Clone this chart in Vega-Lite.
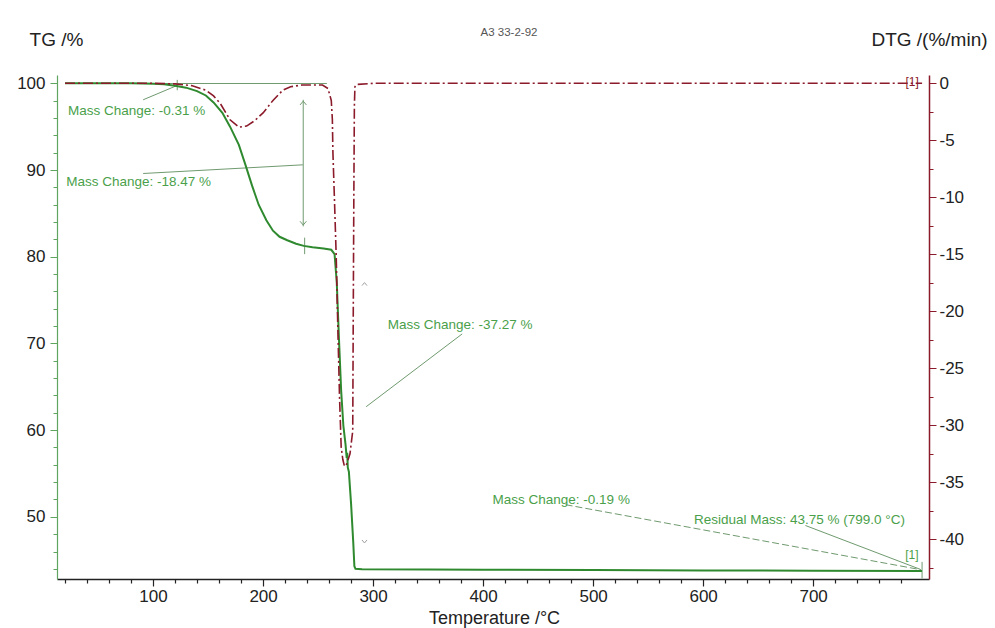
{
  "$schema": "https://vega.github.io/schema/vega-lite/v6.json",
  "width": 872,
  "height": 504,
  "autosize": "none",
  "padding": {"left": 57, "top": 75, "right": 66, "bottom": 49},
  "background": "white",
  "config": {"view": {"stroke": null}, "font": "Liberation Sans"},
  "title": {"text": "A3 33-2-92", "fontSize": 11.5, "font": "Liberation Sans", "fontWeight": "normal", "color": "#555555", "anchor": "middle", "frame": "group", "baseline": "bottom", "offset": -19, "dx": 16},
  "datasets": {
    "tg": [
      {"T": 20, "v": 100.0}, {"T": 40, "v": 100.0}, {"T": 60, "v": 100.0}, {"T": 80, "v": 100.0},
      {"T": 100, "v": 99.95}, {"T": 110, "v": 99.9}, {"T": 120, "v": 99.72}, {"T": 130, "v": 99.5},
      {"T": 140, "v": 99.1}, {"T": 148, "v": 98.6}, {"T": 155, "v": 97.8}, {"T": 163, "v": 96.6},
      {"T": 170, "v": 95.0}, {"T": 178, "v": 92.9}, {"T": 184, "v": 90.6}, {"T": 190, "v": 88.2},
      {"T": 196, "v": 86.0}, {"T": 203, "v": 84.2}, {"T": 209, "v": 83.0}, {"T": 215, "v": 82.3},
      {"T": 222, "v": 81.9}, {"T": 230, "v": 81.5}, {"T": 237, "v": 81.25}, {"T": 245, "v": 81.1},
      {"T": 255, "v": 80.95}, {"T": 262, "v": 80.8}, {"T": 265, "v": 80.3}, {"T": 267, "v": 77.0},
      {"T": 269, "v": 70.5}, {"T": 271, "v": 64.5}, {"T": 273, "v": 60.5}, {"T": 275, "v": 58.3},
      {"T": 276, "v": 56.8}, {"T": 276.5, "v": 57.4}, {"T": 277, "v": 55.7}, {"T": 278, "v": 55.2},
      {"T": 280, "v": 51.5}, {"T": 282, "v": 47.0}, {"T": 283, "v": 44.3}, {"T": 284, "v": 44.0},
      {"T": 290, "v": 43.95}, {"T": 350, "v": 43.93}, {"T": 400, "v": 43.9}, {"T": 500, "v": 43.86},
      {"T": 600, "v": 43.82}, {"T": 700, "v": 43.79}, {"T": 799, "v": 43.75}
    ],
    "dtg": [
      {"T": 20, "v": 0}, {"T": 60, "v": 0}, {"T": 100, "v": 0}, {"T": 120, "v": -0.05},
      {"T": 135, "v": -0.2}, {"T": 148, "v": -0.6}, {"T": 155, "v": -1.1}, {"T": 161, "v": -1.75},
      {"T": 170, "v": -3.2}, {"T": 178, "v": -3.85}, {"T": 185, "v": -3.75}, {"T": 192, "v": -3.3},
      {"T": 200, "v": -2.6}, {"T": 209, "v": -1.5}, {"T": 218, "v": -0.6}, {"T": 225, "v": -0.3},
      {"T": 235, "v": -0.15}, {"T": 254, "v": -0.15}, {"T": 259, "v": -0.45}, {"T": 262, "v": -1.5},
      {"T": 263, "v": -3.2}, {"T": 263.5, "v": -6.1}, {"T": 265, "v": -10.5}, {"T": 266.5, "v": -15.2},
      {"T": 268, "v": -21.6}, {"T": 269.5, "v": -27.5}, {"T": 271, "v": -31.9}, {"T": 272.5, "v": -33.0},
      {"T": 274, "v": -33.6}, {"T": 276, "v": -33.4}, {"T": 279, "v": -32.5}, {"T": 281.5, "v": -30.5},
      {"T": 282, "v": -20}, {"T": 282.5, "v": -10}, {"T": 283, "v": -2}, {"T": 283.5, "v": -0.3},
      {"T": 285, "v": -0.1}, {"T": 300, "v": 0}, {"T": 400, "v": 0}, {"T": 500, "v": 0},
      {"T": 600, "v": 0}, {"T": 700, "v": 0}, {"T": 799, "v": 0}
    ],
    "leaders": [
      {"T": 20, "v": 99.98, "T2": 258, "v2": 99.98},
      {"T": 91, "v": 98.1, "T2": 122.8, "v2": 99.8},
      {"T": 91, "v": 89.6, "T2": 236.2, "v2": 90.6},
      {"T": 236.5, "v": 98.1, "T2": 236.5, "v2": 83.5},
      {"T": 122, "v": 100.4, "T2": 122, "v2": 99.2},
      {"T": 237.8, "v": 82.2, "T2": 237.8, "v2": 80.3},
      {"T": 381, "v": 71.1, "T2": 293.7, "v2": 62.7},
      {"T": 693, "v": 49.0, "T2": 797.3, "v2": 43.95},
      {"T": 799, "v": 44.8, "T2": 799, "v2": 42.9}
    ],
    "dashleaders": [
      {"T": 475, "v": 51.4, "T2": 798, "v2": 43.9}
    ],
    "arrows": [
      {"T": 236.5, "v": 97.8, "dir": "up"},
      {"T": 236.5, "v": 83.8, "dir": "down"}
    ],
    "greyarrows": [
      {"T": 292.2, "v": 76.9, "dir": "up"},
      {"T": 292.2, "v": 47.1, "dir": "down"}
    ],
    "notes": [
      {"T": 22.7, "v": 96.8, "label": "Mass Change: -0.31 %"},
      {"T": 21, "v": 88.6, "label": "Mass Change: -18.47 %"},
      {"T": 313.3, "v": 72.1, "label": "Mass Change: -37.27 %"},
      {"T": 408.6, "v": 51.9, "label": "Mass Change: -0.19 %"},
      {"T": 591.6, "v": 49.65, "label": "Residual Mass: 43.75 % (799.0 °C)"}
    ],
    "tgmark": [
      {"T": 789.8, "v": 45.6, "label": "[1]"}
    ],
    "dtgmark": [
      {"T": 790, "v": 0.1, "label": "[1]"}
    ]
  },
  "encoding": {
    "x": {
      "field": "T",
      "type": "quantitative",
      "scale": {"domain": [12.7, 805.3], "nice": false, "zero": false},
      "axis": {
        "values": [20,40,60,80,100,120,140,160,180,200,220,240,260,280,300,320,340,360,380,400,420,440,460,480,500,520,540,560,580,600,620,640,660,680,700,720,740,760,780],
        "labelExpr": "datum.value % 100 == 0 ? '' + datum.value : ''",
        "tickSize": {"condition": {"test": "datum.value % 100 == 0", "value": 7}, "value": 4},
        "labelFontSize": 17,
        "labelColor": "#222222",
        "labelPadding": 2,
        "labelFlush": false,
        "labelOverlap": false,
        "domainColor": "#222222",
        "domainWidth": 1.5,
        "tickColor": "#222222",
        "tickWidth": 1.2,
        "grid": false,
        "title": "Temperature /°C",
        "titleFontSize": 18,
        "titleFontWeight": "normal",
        "titleColor": "#222222",
        "titleX": 437,
        "titleY": 39,
        "titleAlign": "center",
        "titleBaseline": "middle"
      }
    }
  },
  "layer": [
    {
      "encoding": {
        "y": {
          "field": "v",
          "type": "quantitative",
          "scale": {"domain": [42.83, 100.96], "nice": false, "zero": false},
          "axis": {
            "orient": "left",
            "values": [44,46,48,50,52,54,56,58,60,62,64,66,68,70,72,74,76,78,80,82,84,86,88,90,92,94,96,98,100],
            "labelExpr": "datum.value % 10 == 0 ? '' + datum.value : ''",
            "tickSize": {"condition": {"test": "datum.value % 10 == 0", "value": 7}, "value": 4},
            "labelFontSize": 17,
            "labelColor": "#222222",
            "labelPadding": 5,
            "labelOverlap": false,
            "labelFlush": false,
            "domainColor": "#5fa55f",
            "domainWidth": 1.2,
            "tickColor": "#5fa55f",
            "tickWidth": 1,
            "grid": false,
            "title": "TG /%",
            "titleAngle": 0,
            "titleX": -1,
            "titleY": -36,
            "titleAlign": "center",
            "titleBaseline": "middle",
            "titleFontSize": 19,
            "titleFontWeight": "normal",
            "titleColor": "#222222"
          }
        }
      },
      "layer": [
        {
          "data": {"name": "leaders"},
          "mark": {"type": "rule", "color": "#6f9a6f", "strokeWidth": 1},
          "encoding": {"x2": {"field": "T2"}, "y2": {"field": "v2"}}
        },
        {
          "data": {"name": "dashleaders"},
          "mark": {"type": "rule", "color": "#6f9a6f", "strokeWidth": 1, "strokeDash": [7, 3]},
          "encoding": {"x2": {"field": "T2"}, "y2": {"field": "v2"}}
        },
        {
          "data": {"name": "tg"},
          "mark": {"type": "line", "color": "#2f8a2f", "strokeWidth": 2}
        },
        {
          "data": {"name": "arrows"},
          "mark": {"type": "point", "filled": false, "color": "#6f9a6f", "strokeWidth": 1, "size": 40, "opacity": 1},
          "encoding": {
            "shape": {"field": "dir", "type": "nominal", "scale": {"domain": ["up", "down"], "range": ["M -1 0.8 L 0 -0.4 L 1 0.8", "M -1 -0.8 L 0 0.4 L 1 -0.8"]}, "legend": null}
          }
        },
        {
          "data": {"name": "greyarrows"},
          "mark": {"type": "point", "filled": false, "color": "#a0a0a0", "strokeWidth": 1, "size": 25, "opacity": 1},
          "encoding": {
            "shape": {"field": "dir", "type": "nominal", "scale": {"domain": ["up", "down"], "range": ["M -1 0.8 L 0 -0.4 L 1 0.8", "M -1 -0.8 L 0 0.4 L 1 -0.8"]}, "legend": null}
          }
        },
        {
          "data": {"name": "notes"},
          "mark": {"type": "text", "align": "left", "baseline": "middle", "fontSize": 13.5, "color": "#4a9f4a"},
          "encoding": {"text": {"field": "label"}}
        },
        {
          "data": {"name": "tgmark"},
          "mark": {"type": "text", "align": "center", "baseline": "middle", "fontSize": 12, "color": "#4a9f4a"},
          "encoding": {"text": {"field": "label"}}
        }
      ]
    },
    {
      "encoding": {
        "y": {
          "field": "v",
          "type": "quantitative",
          "scale": {"domain": [-43.48, 0.73], "nice": false, "zero": false},
          "axis": {
            "orient": "right",
            "values": [0,-2.5,-5,-7.5,-10,-12.5,-15,-17.5,-20,-22.5,-25,-27.5,-30,-32.5,-35,-37.5,-40,-42.5],
            "labelExpr": "datum.value % 5 == 0 ? '' + datum.value : ''",
            "tickSize": {"condition": {"test": "datum.value % 5 == 0", "value": 7}, "value": 4},
            "labelFontSize": 17,
            "labelColor": "#222222",
            "labelPadding": 3,
            "labelOverlap": false,
            "labelFlush": false,
            "domainColor": "#8b1a2a",
            "domainWidth": 1.5,
            "tickColor": "#8b1a2a",
            "tickWidth": 1,
            "grid": false,
            "title": "DTG /(%/min)",
            "titleAngle": 0,
            "titleX": 0,
            "titleY": -36,
            "titleAlign": "center",
            "titleBaseline": "middle",
            "titleFontSize": 19,
            "titleFontWeight": "normal",
            "titleColor": "#222222"
          }
        }
      },
      "layer": [
        {
          "data": {"name": "dtg"},
          "mark": {"type": "line", "color": "#8b1a2a", "strokeWidth": 1.6, "strokeDash": [10, 3, 2, 3]}
        },
        {
          "data": {"name": "dtgmark"},
          "mark": {"type": "text", "align": "center", "baseline": "middle", "fontSize": 12, "color": "#8b1a2a"},
          "encoding": {"text": {"field": "label"}}
        }
      ]
    }
  ],
  "resolve": {"scale": {"y": "independent"}}
}
